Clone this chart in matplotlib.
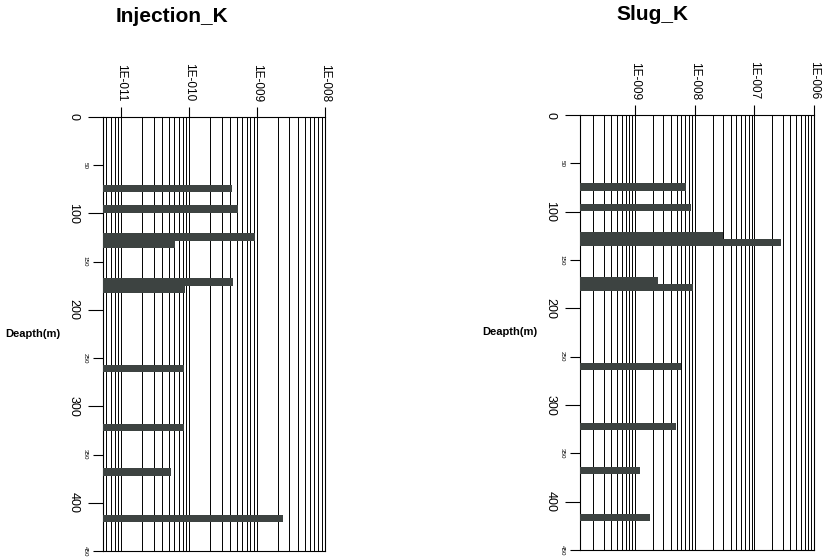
import matplotlib.pyplot as plt
from matplotlib.ticker import FixedLocator, LogLocator, NullFormatter

plt.rcParams['font.family'] = ['Liberation Sans', 'DejaVu Sans']

# depth of each tested interval (m), centre of bar
depth = [74.5, 95.5, 124.5, 132, 171, 178.5, 260.5, 322, 368, 416.5]
bar_h = 7.6

injection_k = [4.25e-10, 5.25e-10, 9.3e-10, 6.25e-11, 4.35e-10, 8.7e-11,
               8.5e-11, 8.3e-11, 5.5e-11, 2.38e-9]
slug_k = [7.2e-9, 8.7e-9, 2.95e-8, 2.76e-7, 2.4e-9, 9.4e-9,
          5.96e-9, 4.9e-9, 1.2e-9, 1.76e-9]

inj_ticks = [1e-11, 1e-10, 1e-9, 1e-8]
inj_labels = ['1E-011', '1E-010', '1E-009', '1E-008']
slug_ticks = [1e-9, 1e-8, 1e-7, 1e-6]
slug_labels = ['1E-009', '1E-008', '1E-007', '1E-006']

major_depth = [0, 100, 200, 300, 400]
minor_depth = [50, 150, 250, 350, 450]

bar_color = '#3d4341'


def panel(ax, vals, xmin, xmax, ticks, labels):
    ax.set_xscale('log')
    ax.set_xlim(xmin, xmax)
    ax.set_ylim(450, 0)
    ax.barh(depth, [v - xmin for v in vals], left=xmin, height=bar_h,
            color=bar_color, zorder=3)
    ax.xaxis.set_major_locator(FixedLocator(ticks))
    ax.xaxis.set_minor_locator(LogLocator(base=10, subs=range(2, 10)))
    ax.xaxis.set_minor_formatter(NullFormatter())
    ax.set_xticklabels(labels, rotation=-90, fontsize=8.5)
    ax.xaxis.tick_top()
    ax.tick_params(axis='x', which='major', length=7, width=0.8, pad=4)
    ax.tick_params(axis='x', which='minor', length=0)
    ax.grid(True, which='both', axis='x', color='black', lw=0.7)
    ax.set_axisbelow(True)

    ax.yaxis.set_major_locator(FixedLocator(major_depth))
    ax.yaxis.set_minor_locator(FixedLocator(minor_depth))
    ax.set_yticklabels([str(d) for d in major_depth], rotation=-90,
                       fontsize=9, va='center')
    ax.set_yticklabels([str(d) for d in minor_depth], minor=True,
                       rotation=-90, fontsize=4.5, va='center')
    ax.tick_params(axis='y', which='major', length=11, width=0.8, pad=6)
    ax.tick_params(axis='y', which='minor', length=7, width=0.8, pad=4)
    for s in ax.spines.values():
        s.set_linewidth(0.8)


fig = plt.figure(figsize=(8.22, 5.57), dpi=100)
ax1 = fig.add_axes([0.1253, 0.0108, 0.2701, 0.7792])
ax2 = fig.add_axes([0.7056, 0.0126, 0.2847, 0.7809])

panel(ax1, injection_k, 5.4e-12, 1e-8, inj_ticks, inj_labels)
panel(ax2, slug_k, 1.2e-10, 1e-6, slug_ticks, slug_labels)

fig.text(172 / 822, 1 - 16 / 557, 'Injection_K', fontsize=15,
         fontweight='bold', ha='center', va='center')
fig.text(652 / 822, 1 - 15 / 557, 'Slug_K', fontsize=15,
         fontweight='bold', ha='center', va='center')
fig.text(33 / 822, 1 - 334 / 557, 'Deapth(m)', fontsize=8,
         fontweight='bold', ha='center', va='center')
fig.text(510 / 822, 1 - 332 / 557, 'Deapth(m)', fontsize=8,
         fontweight='bold', ha='center', va='center')

fig.savefig('out.png', dpi=100)
